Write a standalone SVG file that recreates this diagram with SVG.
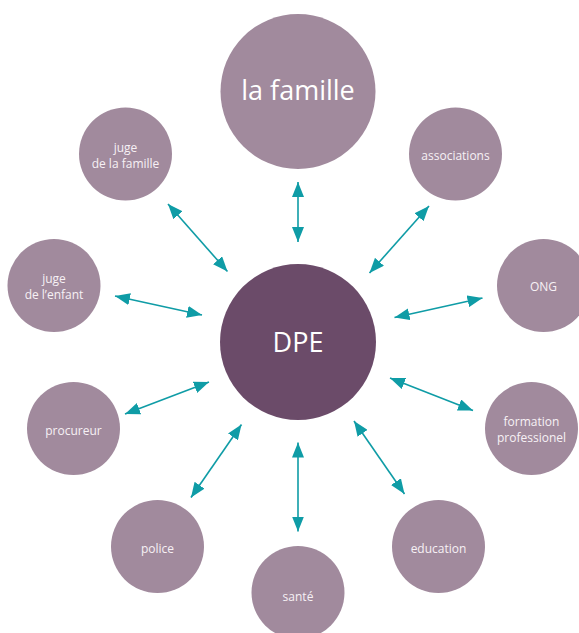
<svg xmlns="http://www.w3.org/2000/svg" width="579" height="633" viewBox="0 0 579 633">
  <style>
    .sat { fill: #a18a9d; }
    .hub { fill: #6b4b69; }
    .lbl { font-family: "Open Sans", "Liberation Sans", sans-serif; font-size: 12px; fill: #f7f1f5; text-anchor: middle; }
    .big { font-family: "Open Sans", "Liberation Sans", sans-serif; font-size: 27px; fill: #ffffff; text-anchor: middle; }
    .link { stroke: #0f9ca6; stroke-width: 1.6; fill: none; marker-start: url(#tip); marker-end: url(#tip); }
  </style>
  <defs>
    <marker id="tip" viewBox="0 0 15 12" refX="15" refY="6" markerWidth="15" markerHeight="12" markerUnits="userSpaceOnUse" orient="auto-start-reverse">
      <path d="M0,0 L15,6 L0,12 z" fill="#0f9ca6"/>
    </marker>
  </defs>
  <rect width="579" height="633" fill="#ffffff"/>

  <!-- two-headed links between the hub and each partner -->
  <g id="connectors">
    <line class="link" x1="298" y1="182" x2="298" y2="242"/>
    <line class="link" x1="429" y1="206" x2="369.5" y2="273"/>
    <line class="link" x1="482.5" y1="298" x2="394.5" y2="317.5"/>
    <line class="link" x1="473" y1="410.5" x2="390" y2="378"/>
    <line class="link" x1="404.5" y1="494" x2="354" y2="421"/>
    <line class="link" x1="298" y1="531.5" x2="298" y2="442.5"/>
    <line class="link" x1="191" y1="497.5" x2="241.5" y2="424.5"/>
    <line class="link" x1="125" y1="414" x2="209" y2="382"/>
    <line class="link" x1="115" y1="296" x2="202" y2="315"/>
    <line class="link" x1="168" y1="204" x2="227.5" y2="271.5"/>
  </g>

  <g id="dpe">
    <circle class="hub" cx="298" cy="342" r="78"/>
    <text class="big" x="298" y="352">DPE</text>
  </g>

  <g id="la-famille">
    <circle class="sat" cx="298" cy="91.5" r="77.5"/>
    <text class="big" x="298" y="99.5">la famille</text>
  </g>

  <g id="associations">
    <circle class="sat" cx="455.5" cy="154" r="46.5"/>
    <text class="lbl" x="455.5" y="160">associations</text>
  </g>

  <g id="ong">
    <circle class="sat" cx="543.5" cy="285.5" r="46.5"/>
    <text class="lbl" x="543.5" y="291">ONG</text>
  </g>

  <g id="formation-professionel">
    <circle class="sat" cx="531.5" cy="428.5" r="46.5"/>
    <text class="lbl" x="531.5" y="425.5"><tspan x="531.5">formation</tspan><tspan x="531.5" dy="16">professionel</tspan></text>
  </g>

  <g id="education">
    <circle class="sat" cx="438.5" cy="546.5" r="46.5"/>
    <text class="lbl" x="438.5" y="552.5">education</text>
  </g>

  <g id="sante">
    <circle class="sat" cx="298" cy="592.5" r="46.5"/>
    <text class="lbl" x="298" y="600.5">santé</text>
  </g>

  <g id="police">
    <circle class="sat" cx="157.5" cy="546.5" r="46.5"/>
    <text class="lbl" x="157.5" y="552.5">police</text>
  </g>

  <g id="procureur">
    <circle class="sat" cx="73.5" cy="428.5" r="46.5"/>
    <text class="lbl" x="73.5" y="434.5">procureur</text>
  </g>

  <g id="juge-enfant">
    <circle class="sat" cx="54" cy="285.5" r="46.5"/>
    <text class="lbl" x="54" y="283"><tspan x="54">juge</tspan><tspan x="54" dy="16">de l’enfant</tspan></text>
  </g>

  <g id="juge-famille">
    <circle class="sat" cx="125.5" cy="154" r="46.5"/>
    <text class="lbl" x="125.5" y="152"><tspan x="125.5">juge</tspan><tspan x="125.5" dy="16">de la famille</tspan></text>
  </g>
</svg>
